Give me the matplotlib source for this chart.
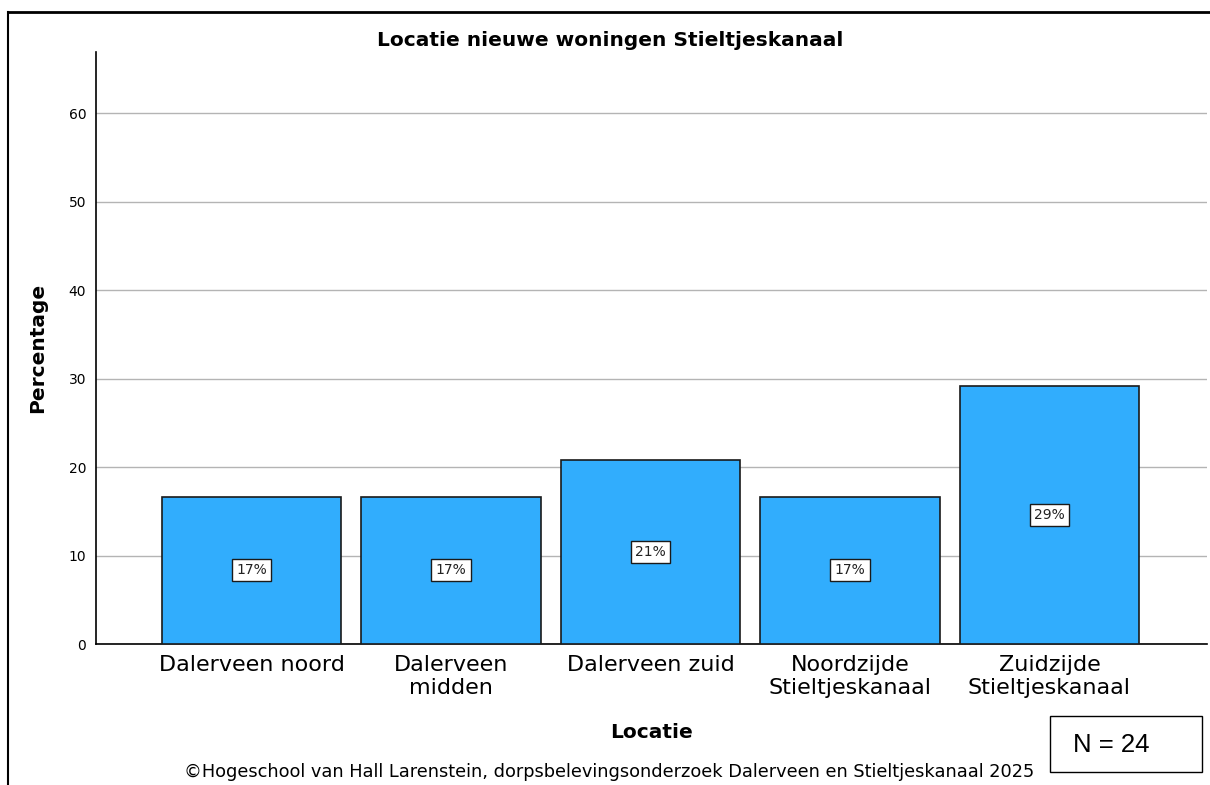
import numpy as np
import matplotlib.pyplot as plt
from matplotlib.lines import Line2D

# Data
locaties = ['Dalerveen noord', 'Dalerveen\nmidden', 'Dalerveen zuid',
            'Noordzijde\nStieltjeskanaal', 'Zuidzijde\nStieltjeskanaal']
aantallen = [4, 4, 5, 4, 7]
n_totaal = 24
percentages = [100 * a / n_totaal for a in aantallen]
yticks = [0, 10, 20, 30, 40, 50, 60]

W, H = 1210, 785
fig = plt.figure(figsize=(W / 100, H / 100), dpi=100)
ax = fig.add_axes([96 / W, 1 - 644 / H, 1111 / W, 592 / H])

x = np.arange(len(locaties))
bars = ax.bar(x, percentages, width=0.9, color='#31adfd', edgecolor='#1a1a1a',
              linewidth=1.2, zorder=3)

for xi, p in zip(x, percentages):
    ax.text(xi, p / 2, f'{p:.0f}%', ha='center', va='center', fontsize=10,
            zorder=4, color='#222222',
            bbox=dict(boxstyle='square,pad=0.3', facecolor='white',
                      edgecolor='#1a1a1a', linewidth=1))

ax.set_xlim(-0.78, 4.79)
ax.set_ylim(0, 66.9)
ax.set_yticks(yticks)
ax.set_xticks(x)
ax.set_xticklabels(locaties, fontsize=16, linespacing=1.2)
ax.tick_params(axis='y', length=0, labelsize=10, pad=7)
ax.tick_params(axis='x', length=0, pad=8)
ax.yaxis.grid(True, color='#b4b4b4', linewidth=1, zorder=0)
ax.set_axisbelow(True)

for s in ['top', 'right']:
    ax.spines[s].set_visible(False)
ax.spines['left'].set_linewidth(1.2)
ax.spines['bottom'].set_linewidth(1.2)

fig.text(610 / W, 1 - 40 / H, 'Locatie nieuwe woningen Stieltjeskanaal',
         ha='center', va='center', fontsize=14.5, fontweight='bold')
fig.text(38 / W, 1 - 348 / H, 'Percentage', ha='center', va='center',
         rotation=90, fontsize=14.5, fontweight='bold')
fig.text(651 / W, 1 - 733 / H, 'Locatie', ha='center', va='center',
         fontsize=14.5, fontweight='bold')

fig.text(609 / W, 1 - 772 / H, '©Hogeschool van Hall Larenstein, dorpsbelevingsonderzoek '
         'Dalerveen en Stieltjeskanaal 2025', ha='center', va='center', fontsize=12.8)

fig.text(1111 / W, 1 - 745 / H, 'N = 24', ha='center', va='center', fontsize=18.5,
         family='Liberation Sans')
fig.patches.append(plt.Rectangle((1050 / W, 1 - 772 / H), 152 / W, 56 / H,
                                 transform=fig.transFigure, fill=False,
                                 edgecolor='black', linewidth=1))

# outer frame: top and left only
fig.lines.append(Line2D([8 / W, 1], [1 - 12 / H, 1 - 12 / H],
                        transform=fig.transFigure, color='black', linewidth=2))
fig.lines.append(Line2D([8 / W, 8 / W], [0, 1 - 12 / H],
                        transform=fig.transFigure, color='black', linewidth=1.5))

fig.savefig('out.png', dpi=100)
